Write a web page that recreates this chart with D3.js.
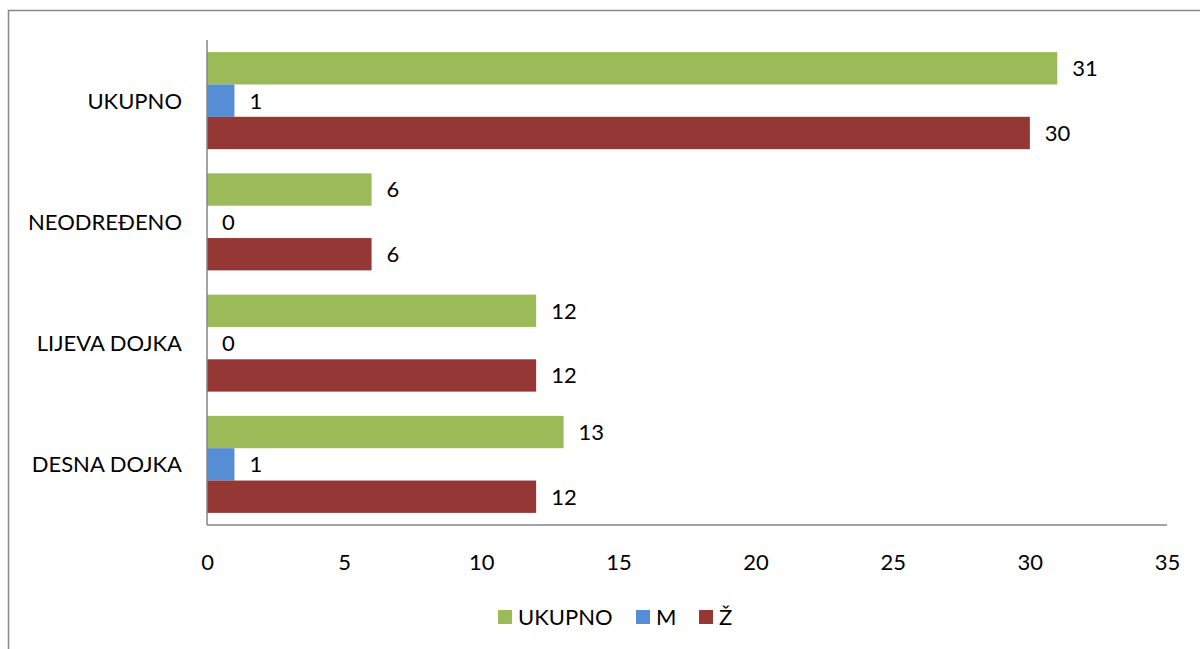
<!DOCTYPE html>
<html><head><meta charset="utf-8">
<script src="https://cdn.jsdelivr.net/npm/d3@7"></script>
<style>body{margin:0;background:#fff}svg{display:block}text{font-family:Lato,"Open Sans",sans-serif;fill:#000}</style>
</head><body><svg id="c" width="1200" height="649"></svg>
<script>
const categories = ["UKUPNO","NEODREĐENO","LIJEVA DOJKA","DESNA DOJKA"];
const seriesNames = ["UKUPNO","M","Ž"];
const seriesUkupno = [31,6,12,13];
const seriesM = [1,0,0,1];
const seriesZ = [30,6,12,12];
const xTicks = [0,5,10,15,20,25,30,35];
const colors = ["#9BBB59","#558ED5","#953735"];

const FS = 22;
const values = [seriesUkupno, seriesM, seriesZ];
const svg = d3.select("#c");
svg.append("rect").attr("x",8.5).attr("y",10.5).attr("width",1200).attr("height",700)
  .attr("fill","none").attr("stroke","#888").attr("stroke-width",1.5);

const x = d3.scaleLinear().domain([0,35]).range([207,1167]);
const y = d3.scaleBand().domain(categories).range([40,525]).paddingInner(0.2).paddingOuter(0.1);
const ys = d3.scaleBand().domain(seriesNames).range([0,y.bandwidth()]);

const g = svg.append("g");
categories.forEach((c,i)=>{
  seriesNames.forEach((s,j)=>{
    const v = values[j][i];
    g.append("rect").attr("x",x(0)).attr("y",y(c)+ys(s)).attr("width",x(v)-x(0)).attr("height",ys.bandwidth()).attr("fill",colors[j]);
    g.append("text").attr("x",x(v)+15).attr("y",y(c)+ys(s)+ys.bandwidth()/2).attr("dy","0.36em").attr("font-size",FS).text(v);
  });
  svg.append("text").attr("x",182).attr("y",y(c)+y.bandwidth()/2).attr("dy","0.36em").attr("text-anchor","end").attr("font-size",FS).text(c);
});

// axes
svg.append("line").attr("x1",207).attr("x2",207).attr("y1",40).attr("y2",525).attr("stroke","#868686").attr("stroke-width",1.5);
svg.append("line").attr("x1",207).attr("x2",1167).attr("y1",525).attr("y2",525).attr("stroke","#868686").attr("stroke-width",1.5);
const xa = svg.append("g").attr("transform","translate(0,525)").call(d3.axisBottom(x).tickValues(xTicks).tickSize(0).tickPadding(0));
xa.select(".domain").remove();
xa.selectAll("text").attr("y",37).attr("dy","0.36em").attr("font-size",FS).attr("font-family","Lato,'Open Sans',sans-serif").attr("fill","#000");

// legend
const leg = [{n:"UKUPNO",x:498},{n:"M",x:636},{n:"Ž",x:699}];
leg.forEach((l,i)=>{
  svg.append("rect").attr("x",l.x).attr("y",610).attr("width",14).attr("height",14).attr("fill",colors[i]);
  svg.append("text").attr("x",l.x+20).attr("y",617).attr("dy","0.36em").attr("font-size",FS).text(l.n);
});
</script></body></html>
